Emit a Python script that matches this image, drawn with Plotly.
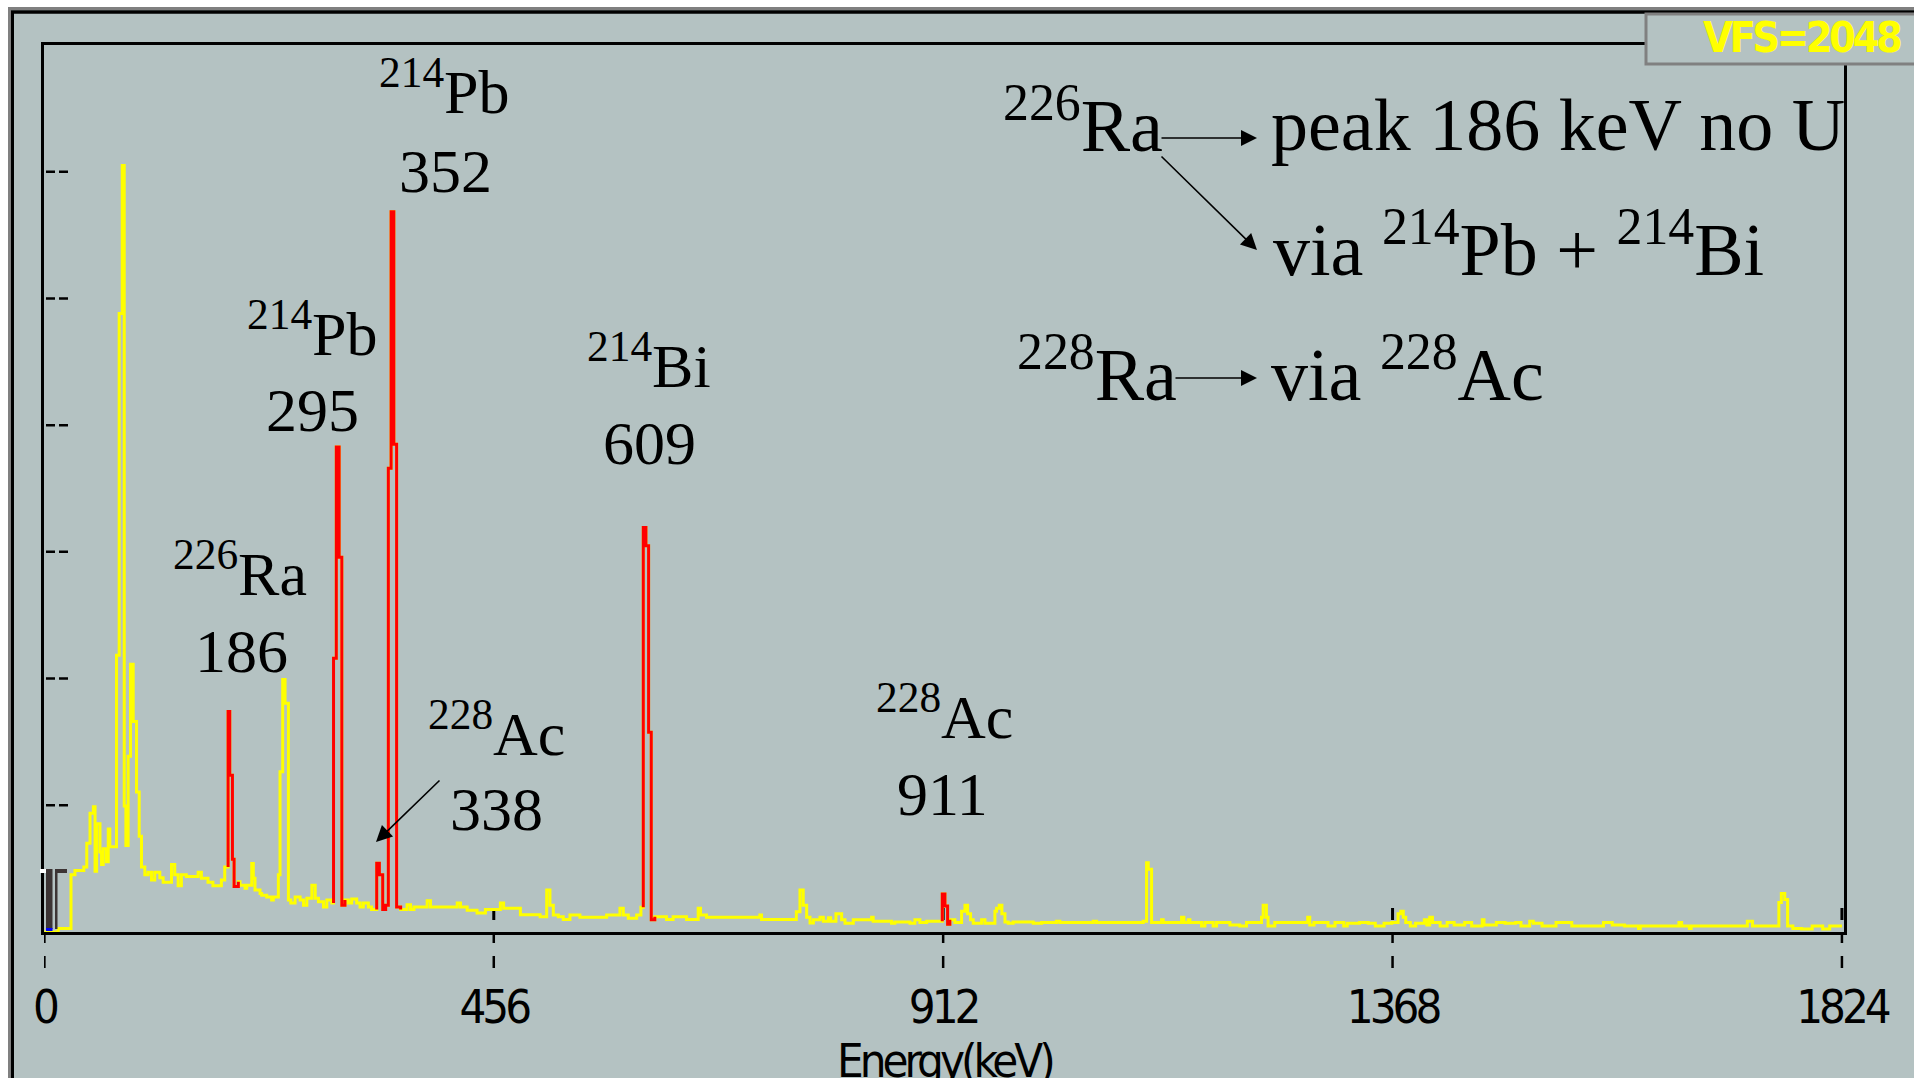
import plotly.graph_objects as go

# ---------------- data ----------------
energy_kev = [
    0, 14, 27, 31, 40, 43, 46.3, 49.7, 51.4, 53, 56.4, 58, 59.7, 63, 64.8, 66.4,
    73.2, 75.9, 79, 81, 82.7, 85, 87.4, 90.1, 93.5, 96.2, 98.5, 101.9, 105.3, 108.7,
    112, 117.1, 120.5, 129, 132.3, 135.7, 139, 144, 156, 159.3, 166, 171, 179.6, 183,
    186.4, 188.1, 190.8, 192.5, 196.8, 198.5, 203.6, 205.3, 210.4, 212, 213.7, 218.8,
    220.5, 225.6, 230.6, 232.3, 237.4, 239.1, 241.8, 244.2, 247.6, 250, 254.4, 259.5,
    262.9, 266.3, 271.4, 274.8, 278.1, 283.2, 286.6, 291.7, 293.4, 296.2, 299.1, 301.8,
    305, 308.4, 311.8, 316.9, 320.3, 323.6, 328.7, 332, 337.2, 339.9, 343.3, 346.3,
    349, 351.8, 354.6, 357.4, 361.5, 368, 371.5, 375, 388.4, 391.8, 418.9, 422.2, 429,
    439, 447.5, 462.7, 466, 483, 503, 509.7, 513, 516.4, 521.5, 526.5, 533.3, 543.4,
    570.5, 584, 587.4, 592.5, 601, 605.3, 607.7, 610.4, 613.1, 615.8, 619.4, 631.3,
    638, 651.6, 663.4, 665.8, 671.9, 726, 727.7, 763, 766.7, 770, 773.5, 776.9, 780.3,
    787, 790.4, 795.5, 797.8, 803.2, 809, 812.4, 820.8, 839.4, 841, 859.6, 863, 878.3,
    883.3, 888.4, 895.2, 911.1, 913.8, 916.5, 918.8, 923.9, 930.7, 934.1, 936.8, 939.8,
    942.5, 951, 954.4, 964.5, 966.2, 968.9, 971.6, 974.7, 978, 983, 1003.4, 1011.9,
    1027, 1030.4, 1064.3, 1067.6, 1115, 1118.4, 1120.1, 1123.5, 1133.6, 1135.3, 1153.9,
    1156.3, 1160.7, 1162.4, 1174.2, 1177.6, 1186, 1189.4, 1203, 1213, 1219.8, 1235,
    1236.7, 1240, 1241.7, 1248.5, 1281.9, 1284, 1288.3, 1302.5, 1309.6, 1318.5, 1322,
    1334.5, 1343.4, 1350.5, 1359.4, 1367.2, 1373.6, 1376.4, 1378.9, 1381.4, 1386,
    1391.4, 1400.3, 1402.8, 1405.7, 1408.5, 1416.3, 1423.4, 1430.5, 1441.2, 1448.3,
    1459, 1460.8, 1473.3, 1482.2, 1492.9, 1498.3, 1507.2, 1510.8, 1519.7, 1533.9,
    1549.9, 1582, 1590.9, 1603.4, 1617.6, 1619.4, 1658.6, 1661.4, 1669.2, 1671, 1728,
    1733.3, 1760, 1762.5, 1766, 1768.9, 1774.2, 1783.1, 1793.8, 1804.5, 1811.6, 1824,
]
counts = [
    0, 8, 132, 142, 150, 205, 274, 289, 140, 250, 185, 156, 192, 162, 238, 197,
    639, 1428, 1770, 291, 200, 406, 618, 486, 323, 221, 150, 132, 138, 120,
    138, 125, 115, 156, 132, 107, 132, 128, 138, 124, 115, 107, 120, 150,
    509, 362, 168, 105, 116, 108, 101, 108, 158, 124, 97, 89,
    85, 81, 74, 81, 132, 370, 583, 528, 74, 67, 81, 74,
    62, 78, 108, 78, 70, 58, 74, 67, 632, 1120, 865, 62,
    74, 67, 76, 67, 58, 67, 58, 52, 159, 132, 52, 62,
    1071, 1663, 1126, 58, 52, 63, 52, 58, 72, 58, 67, 58, 50,
    44, 52, 67, 55, 40, 35, 97, 62, 39, 35, 29, 39, 34,
    39, 55, 39, 32, 39, 57, 934, 892, 461, 28, 35, 29,
    35, 29, 55, 39, 34, 39, 29, 47, 97, 62, 34, 21, 28,
    34, 25, 33, 25, 42, 28, 20, 28, 34, 25, 20, 23, 20,
    28, 22, 25, 88, 60, 18, 28, 22, 48, 62, 42, 28,
    20, 28, 20, 48, 55, 62, 42, 23, 20, 23, 20, 22,
    25, 22, 25, 22, 25, 160, 145, 22, 28, 22, 34,
    22, 28, 22, 14, 22, 14, 22, 16, 14, 22, 34,
    62, 34, 14, 22, 34, 16, 22, 14, 22, 14, 20,
    22, 20, 14, 20, 22, 42, 48, 34, 22, 14,
    20, 28, 16, 34, 22, 14, 22, 16, 22, 14,
    28, 16, 22, 20, 22, 14, 25, 20, 14, 22,
    14, 22, 16, 14, 8, 14, 22, 14, 8, 14, 25,
    14, 68, 89, 75, 14, 8, 7, 14, 7, 14, 14,
]
# regions of interest drawn in red (start, end) in keV
roi_start_kev = [186.4, 293.4, 337.2, 607.7, 911.1]
roi_end_kev = [196.8, 305.0, 361.5, 619.4, 918.8]

x_tick_values = [0, 456, 912, 1368, 1824]
x_tick_labels = ["0", "456", "912", "1368", "1824"]
x_title = "Energy(keV)"
full_scale = 2048
y_divisions = 7

# ---------------- layout geometry ----------------
W, H = 1914, 1078
ML, MR, MT, MB = 44, 70, 45, 146
PW, PH = W - ML - MR, H - MT - MB
BOTTOM = H - MB


def fx(px):
    return (px - ML) / PW


def fy(py):
    return (BOTTOM - py) / PH


BG = "rgb(180,194,194)"
SERIF = "Liberation Serif, Times New Roman, serif"
NARROW = "DejaVu Sans Condensed, Liberation Sans Narrow, sans-serif"


def narrow(s, spacing):
    return f'<span style="letter-spacing:{spacing}px">{s}</span>'


fig = go.Figure()
fig.add_trace(go.Scatter(x=energy_kev, y=counts, mode="lines",
                         line=dict(color="#FFFF00", width=3, shape="hv"),
                         hoverinfo="skip", showlegend=False))

red_x, red_y = [], []
for lo, hi in zip(roi_start_kev, roi_end_kev):
    prev = None
    for e, c in zip(energy_kev, counts):
        if e < lo:
            prev = c
        elif e <= hi:
            if not red_x or red_x[-1] is None:
                red_x.append(e)
                red_y.append(prev)
            red_x.append(e)
            red_y.append(c)
    red_x.append(None)
    red_y.append(None)
fig.add_trace(go.Scatter(x=red_x, y=red_y, mode="lines", connectgaps=False,
                         line=dict(color="#FF0000", width=3, shape="hv"),
                         hoverinfo="skip", showlegend=False))

shapes = []
# white page edge and window border
shapes.append(dict(type="rect", xref="paper", yref="paper", x0=fx(-10), x1=fx(8),
                   y0=fy(1100), y1=fy(-10), fillcolor="white", line=dict(width=0), layer="below"))
shapes.append(dict(type="rect", xref="paper", yref="paper", x0=fx(-10), x1=fx(1930),
                   y0=fy(7), y1=fy(-10), fillcolor="white", line=dict(width=0), layer="below"))
shapes.append(dict(type="line", xref="paper", yref="paper", x0=fx(9.5), x1=fx(9.5),
                   y0=fy(8), y1=fy(1100), line=dict(color="#808080", width=3), layer="below"))
shapes.append(dict(type="line", xref="paper", yref="paper", x0=fx(12.5), x1=fx(12.5),
                   y0=fy(11), y1=fy(1100), line=dict(color="black", width=3), layer="below"))
shapes.append(dict(type="line", xref="paper", yref="paper", x0=fx(8), x1=fx(1930),
                   y0=fy(8.5), y1=fy(8.5), line=dict(color="#808080", width=3), layer="below"))
shapes.append(dict(type="line", xref="paper", yref="paper", x0=fx(11), x1=fx(1930),
                   y0=fy(12), y1=fy(12), line=dict(color="black", width=3.5), layer="below"))
# VFS box
shapes.append(dict(type="rect", xref="paper", yref="paper", x0=fx(1646), x1=fx(1930),
                   y0=fy(64), y1=fy(14), fillcolor=BG, line=dict(color="#808080", width=3),
                   layer="above"))
# y tick dashes (inside)
for k in range(1, y_divisions):
    v = full_scale * k / y_divisions
    shapes.append(dict(type="line", xref="paper", yref="y", x0=fx(46), x1=fx(69), y0=v, y1=v,
                       line=dict(color="black", width=2.5, dash="9px,4px")))
# x tick dashes (outside) and small inside marks
for t in x_tick_values:
    shapes.append(dict(type="line", xref="x", yref="paper", x0=t, x1=t, y0=fy(934), y1=fy(968),
                       line=dict(color="black", width=2.5, dash="9px,13px,13px")))
    if t > 0:
        shapes.append(dict(type="line", xref="x", yref="paper", x0=t, x1=t, y0=fy(908), y1=fy(920),
                           line=dict(color="black", width=3), layer="below"))
# ROI cursor markers at the start of the spectrum
CUR = "rgb(60,52,52)"
shapes.append(dict(type="rect", xref="paper", yref="paper", x0=fx(46), x1=fx(52.5),
                   y0=fy(929), y1=fy(869), fillcolor=CUR, line=dict(width=0)))
shapes.append(dict(type="rect", xref="paper", yref="paper", x0=fx(40), x1=fx(46),
                   y0=fy(873), y1=fy(869), fillcolor="white", line=dict(width=0)))
shapes.append(dict(type="rect", xref="paper", yref="paper", x0=fx(55), x1=fx(57.5),
                   y0=fy(929), y1=fy(869), fillcolor=CUR, line=dict(width=0)))
shapes.append(dict(type="rect", xref="paper", yref="paper", x0=fx(55), x1=fx(67),
                   y0=fy(873), y1=fy(869), fillcolor=CUR, line=dict(width=0)))
shapes.append(dict(type="rect", xref="paper", yref="paper", x0=fx(46), x1=fx(52.5),
                   y0=fy(931), y1=fy(928), fillcolor="#0000FF", line=dict(width=0)))

annotations = []


def label(text, cx, baseline, size, anchor="center"):
    annotations.append(dict(x=fx(cx), y=fy(baseline + 0.216 * size), xref="paper", yref="paper",
                            text=text, showarrow=False, xanchor=anchor, yanchor="bottom",
                            borderpad=0, borderwidth=0,
                            font=dict(family=SERIF, size=size, color="black")))


def arrow(tx, ty, hx, hy):
    annotations.append(dict(x=fx(hx), y=fy(hy), ax=tx - hx, ay=ty - hy, xref="paper", yref="paper",
                            axref="pixel", ayref="pixel", text="", showarrow=True,
                            arrowhead=2, arrowsize=2.0, arrowwidth=1.6, arrowcolor="black",
                            standoff=0, startstandoff=0))


LS = 62
label("<sup>214</sup>Pb", 444, 113, LS)
label("352", 445, 192, LS)
label("<sup>214</sup>Pb", 312.5, 355, LS)
label("295", 312, 431, LS)
label("<sup>214</sup>Bi", 649, 387, LS)
label("609", 649, 464, LS)
label("<sup>226</sup>Ra", 239.5, 595, LS)
label("186", 241, 672, LS)
label("<sup>228</sup>Ac", 496, 755, LS)
label("338", 496.5, 830, LS)
label("<sup>228</sup>Ac", 944, 737.5, LS)
label("911", 942, 815, LS)
arrow(441, 779, 376, 842)

RS = 74
label("<sup>226</sup>Ra", 1003, 151, RS, "left")
label("peak 186 keV no U", 1271, 150, RS, "left")
label("via <sup>214</sup>Pb + <sup>214</sup>Bi", 1273, 275, RS, "left")
label("<sup>228</sup>Ra", 1017, 400, RS, "left")
label("via <sup>228</sup>Ac", 1271, 400, RS, "left")
arrow(1160, 138, 1257, 138)
arrow(1160, 155, 1257, 250)
arrow(1174, 378, 1257, 378)

annotations.append(dict(x=fx(1701), y=fy(37), xref="paper", yref="paper",
                        text=narrow("<b>VFS=2048</b>", -3.5),
                        showarrow=False, xanchor="left", yanchor="middle",
                        font=dict(family=NARROW, size=43, color="#FFFF00")))
# axis title
annotations.append(dict(x=fx(944), y=fy(1033), xref="paper", yref="paper",
                        text=narrow(x_title, -4), showarrow=False, xanchor="center", yanchor="top",
                        borderpad=0, borderwidth=0,
                        font=dict(family=NARROW, size=47, color="black")))

fig.update_layout(
    width=W, height=H, margin=dict(l=ML, r=MR, t=MT, b=MB, pad=0),
    paper_bgcolor=BG, plot_bgcolor=BG, showlegend=False,
    shapes=shapes, annotations=annotations,
    xaxis=dict(range=[-0.4, 1826.1], showline=True, linecolor="black", linewidth=3, mirror=True,
               showgrid=False, zeroline=False, tickvals=x_tick_values,
               ticktext=[narrow(s, -4) for s in x_tick_labels],
               ticks="outside", ticklen=32, tickcolor="rgba(0,0,0,0)", automargin=False,
               tickfont=dict(family=NARROW, size=47, color="black")),
    yaxis=dict(range=[0, full_scale], showline=True, linecolor="black", linewidth=3, mirror=True,
               showgrid=False, zeroline=False, showticklabels=False, ticks="", automargin=False),
)

fig.write_html("out.html")
